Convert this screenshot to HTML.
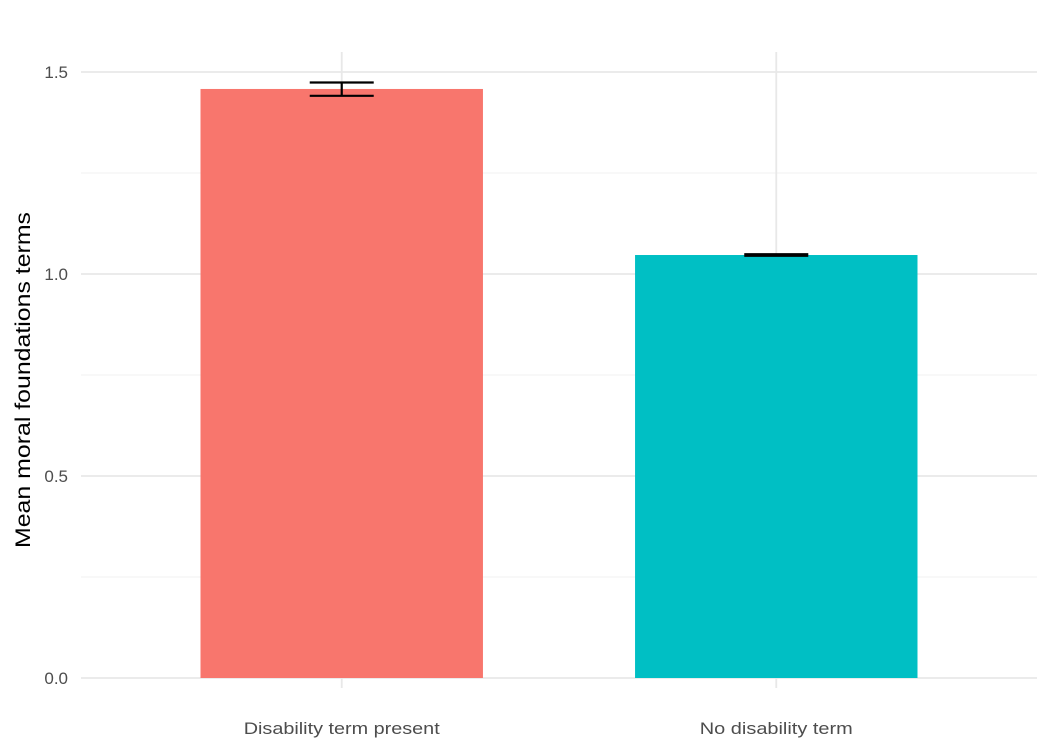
<!DOCTYPE html>
<html><head><meta charset="utf-8"><style>
body{margin:0;background:#fff;}
svg text{font-family:"Liberation Sans",sans-serif;}
</style></head><body>
<svg id="chart" width="1050" height="750" xmlns="http://www.w3.org/2000/svg"></svg>
<script>
const categories = ["Disability term present", "No disability term"];
const means = [1.458, 1.047];
const lowers = [1.441, 1.045];
const uppers = [1.474, 1.049];
const colors = ["#F8766D", "#00BFC4"];
const yTicks = [0, 0.5, 1.0, 1.5];
const yTickLabels = ["0.0", "0.5", "1.0", "1.5"];
const labelWidths = [196, 153];

const svgEl = document.getElementById('chart');
const NS = 'http://www.w3.org/2000/svg';
const plotLeft = 81, plotRight = 1037, plotTop = 52, plotBottom = 688;
const yZero = 678, pxPerUnit = 404;
const yScale = v => yZero - v * pxPerUnit;
const unit = (plotRight - plotLeft) / (categories.length + 0.2);
const xc = i => plotLeft + (i + 0.6) * unit;
const barW = unit * 0.65, capW = 64;

function mk(tag, attrs, parent) {
  const e = document.createElementNS(NS, tag);
  for (const k in attrs) e.setAttribute(k, attrs[k]);
  (parent || svgEl).appendChild(e);
  return e;
}

for (let i = 0; i < yTicks.length - 1; i++) {
  const m = (yTicks[i] + yTicks[i + 1]) / 2;
  const l = mk('line', {x1: plotLeft, x2: plotRight, y1: yScale(m), y2: yScale(m), stroke: '#ebebeb', 'stroke-width': 0.8});
  
  
}
yTicks.forEach((t, i) => {
  const l = mk('line', {x1: plotLeft, x2: plotRight, y1: yScale(t), y2: yScale(t), stroke: '#e8e8e8', 'stroke-width': 1.8});
  
  
  const tx = mk('text', {x: 68, y: yScale(t) + 6, 'text-anchor': 'end', 'font-size': 17, fill: '#4d4d4d'});
  tx.textContent = yTickLabels[i];
  
  
});
categories.forEach((c, i) => {
  const l = mk('line', {x1: xc(i), x2: xc(i), y1: plotTop, y2: plotBottom, stroke: '#e8e8e8', 'stroke-width': 1.8});
  
  
});
categories.forEach((c, i) => {
  const r = mk('rect', {x: xc(i) - barW / 2, y: yScale(means[i]), width: barW, height: yZero - yScale(means[i]), fill: colors[i]});
  
  
  const g = mk('g', {stroke: '#000', 'stroke-width': 2.2});
  
  
  mk('line', {x1: xc(i), x2: xc(i), y1: yScale(uppers[i]), y2: yScale(lowers[i])}, g);
  mk('line', {x1: xc(i) - capW / 2, x2: xc(i) + capW / 2, y1: yScale(uppers[i]), y2: yScale(uppers[i])}, g);
  mk('line', {x1: xc(i) - capW / 2, x2: xc(i) + capW / 2, y1: yScale(lowers[i]), y2: yScale(lowers[i])}, g);
  const tx = mk('text', {x: xc(i), y: 734, 'text-anchor': 'middle', 'font-size': 17, fill: '#4d4d4d', textLength: labelWidths[i], lengthAdjust: 'spacingAndGlyphs'});
  tx.textContent = c;
  
  
});
const yt = mk('text', {x: 0, y: 0, transform: 'translate(30,380) rotate(-90)', 'text-anchor': 'middle', 'font-size': 21, fill: '#000', textLength: 336, lengthAdjust: 'spacingAndGlyphs'});
yt.textContent = 'Mean moral foundations terms';


</script>
</body></html>
